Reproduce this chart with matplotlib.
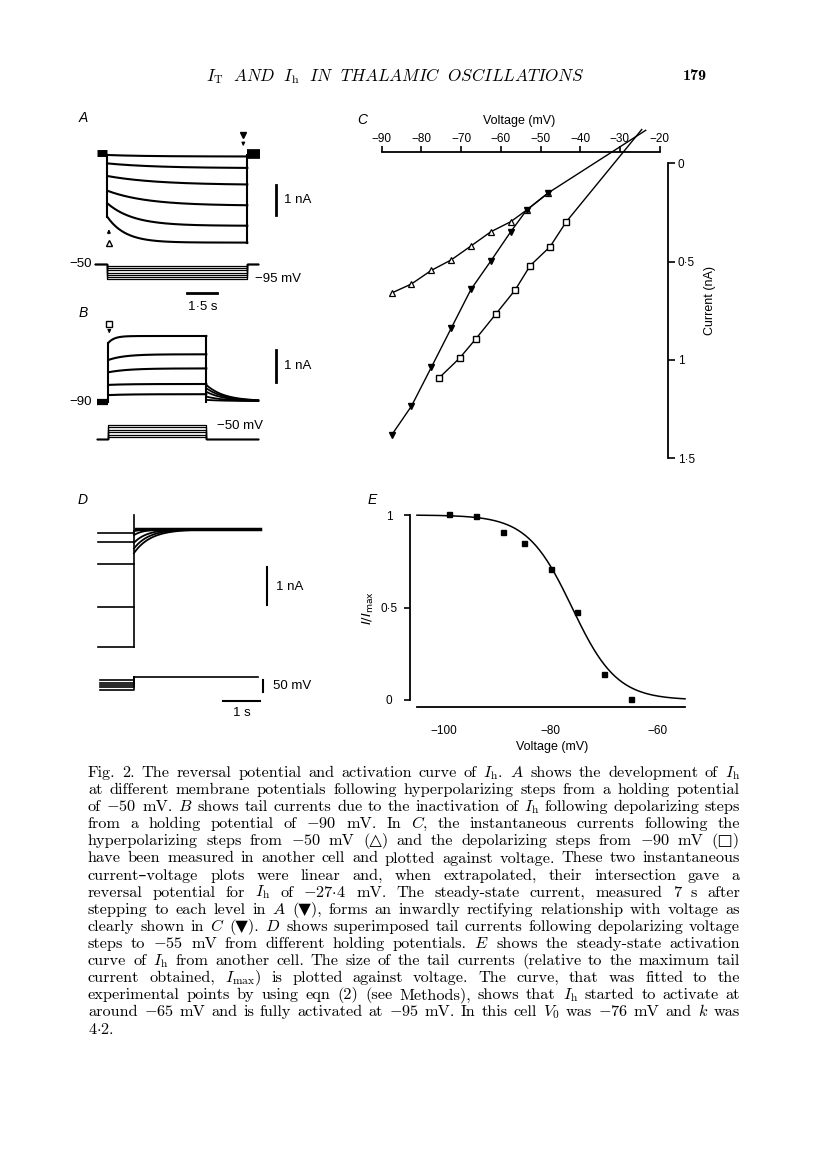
import numpy as np
import matplotlib
matplotlib.use('Agg')
import matplotlib.pyplot as plt

plt.rcParams['font.family'] = ['Liberation Sans', 'DejaVu Sans']
plt.rcParams['mathtext.fontset'] = 'cm'

W, H = 816, 1169

# ---------------- data ----------------
# A: currents (nA, rel. to holding at -50 mV) during 7 s hyperpolarizing steps
A_inst = [0.0, -0.28, -0.70, -1.19, -1.61, -2.06]
A_ss = [-0.05, -0.44, -1.00, -1.69, -2.36, -2.92]
A_tau = [2.0, 2.5, 2.5, 2.0, 1.3, 0.9]
A_volt = [-55, -62, -69, -75, -82, -88, -95]
A_dur = 7.0

# B: depolarizing steps from -90 mV, then tail currents
B_inst = [1.96, 1.39, 0.98, 0.56, 0.22]
B_ss = [2.19, 1.58, 1.11, 0.59, 0.25]
B_tau = [0.3, 0.8, 1.0, 1.0, 1.0]
B_tail = [0.56, 0.45, 0.33, 0.17, 0.06]
B_tail_tau = 0.9
B_volt = [-50, -57, -64, -71, -78, -85]
B_dur = 4.9

# C: I-V relations (voltage mV, current nA, inward plotted downwards)
C_v_tri = [-87.5, -82.5, -77.5, -72.5, -67.5, -62.5, -57.5, -53.5, -48.0, -23.5]
C_i_tri = [0.66, 0.614, 0.545, 0.492, 0.421, 0.349, 0.298, 0.239, 0.151, -0.166]
C_v_ss = [-87.5, -82.5, -77.5, -72.5, -67.5, -62.5, -57.5, -53.5, -48.0]
C_i_ss = [1.381, 1.234, 1.037, 0.839, 0.641, 0.497, 0.349, 0.239, 0.151]
C_v_sq = [-75.5, -70.4, -66.3, -61.3, -56.4, -52.6, -47.6, -43.5, -24.5]
C_i_sq = [1.09, 0.991, 0.893, 0.768, 0.645, 0.521, 0.425, 0.298, -0.17]
C_xticks = [-90, -80, -70, -60, -50, -40, -30, -20]
C_yticks = [0, 0.5, 1, 1.5]
C_ylabels = ['0', '0·5', '1', '1·5']

# D: tail currents at -55 mV from different holding potentials
D_pre = [-0.10, -0.34, -0.91, -2.04, -3.07]
D_tail = [-0.05, -0.15, -0.35, -0.50, -0.62]
D_tau = [0.15, 0.25, 0.35, 0.40, 0.45]
D_hold = [-70, -80, -90, -100, -110]
D_step = -55

# E: activation curve
E_v = [-99, -94, -89, -85, -80, -75, -70, -65]
E_i = [1.003, 0.996, 0.906, 0.85, 0.706, 0.474, 0.139, 0.004]
E_V0, E_k = -76.0, 4.2
E_yticks = [0, 0.5, 1]
E_ylabels = ['0', '0·5', '1']
E_xticks = [-100, -80, -60]

fig = plt.figure(figsize=(W / 100, H / 100), dpi=100)


def panel(box, origin, scale, off=True):
    # box/origin in pixels from the top-left corner, scale in px per data unit
    x0, y0, x1, y1 = box
    ox, oy = origin
    sx, sy = scale
    ax = fig.add_axes([x0 / W, 1 - y1 / H, (x1 - x0) / W, (y1 - y0) / H])
    ax.set_facecolor('none')
    ax.set_xlim((x0 - ox) / sx, (x1 - ox) / sx)
    ax.set_ylim((oy - y1) / sy, (oy - y0) / sy)
    if off:
        ax.axis('off')
    return ax


def ftext(x, y, s, **kw):
    kw.setdefault('fontsize', 9.5)
    return fig.text(x / W, 1 - y / H, s, **kw)


LW = 1.5
K = 'black'

# ---------------- panel A ----------------
axA = panel((60, 125, 300, 310), (107.3, 155), (20, 30))
t = np.linspace(0, A_dur, 300)
for i0, iss, tau in zip(A_inst, A_ss, A_tau):
    axA.plot(t, iss + (i0 - iss) * np.exp(-t / tau), color=K, lw=LW)
axA.plot([0, 0], [0, min(A_inst)], color=K, lw=LW)
axA.plot([A_dur, A_dur], [0, min(A_ss)], color=K, lw=LW)
axA.plot([-0.5, 0], [0.08, 0.08], color=K, lw=5, solid_capstyle='butt')
axA.plot([A_dur, A_dur + 0.65], [0.05, 0.05], color=K, lw=7, solid_capstyle='butt')
axA.plot([0.08], [-2.93], marker='^', ms=4, mfc='white', mec=K, mew=1)
axA.annotate('', xy=(0.08, -2.38), xytext=(0.08, -2.72),
             arrowprops=dict(arrowstyle='-|>', lw=0.8, color=K, mutation_scale=5))
axA.plot([A_dur - 0.2], [0.67], marker='v', ms=4.5, color=K)
axA.annotate('', xy=(A_dur - 0.2, 0.2), xytext=(A_dur - 0.2, 0.52),
             arrowprops=dict(arrowstyle='-|>', lw=0.8, color=K, mutation_scale=5))
axA.plot([8.43, 8.43], [-1, -2], color=K, lw=2)
axA.text(8.85, -1.5, '1 nA', fontsize=9.5, va='center')

axAv = panel((60, 250, 300, 315), (107.3, 247), (20, 0.34))
for v in A_volt:
    axAv.plot([-0.6, 0, 0, A_dur, A_dur, A_dur + 0.55], [-50, -50, v, v, -50, -50],
              color=K, lw=0.9)
axAv.text(-0.75, -50, '−50', ha='right', va='center', fontsize=9.5)
axAv.text(A_dur + 0.4, -95, '−95 mV', ha='left', va='center', fontsize=9.5)
axAv.plot([4.0, 5.5], [-136, -136], color=K, lw=2)
axAv.text(4.75, -160, '1·5 s', ha='center', va='top', fontsize=9.5)

# ---------------- panel B ----------------
axB = panel((60, 315, 300, 410), (108.3, 401.7), (20, 30))
t = np.linspace(0, B_dur, 300)
tt = np.linspace(B_dur, 7.5, 200)
for i0, iss, tau, it in zip(B_inst, B_ss, B_tau, B_tail):
    axB.plot(t, iss + (i0 - iss) * np.exp(-t / tau), color=K, lw=LW)
    axB.plot(tt, 0.02 + (it - 0.02) * np.exp(-(tt - B_dur) / B_tail_tau), color=K, lw=1.3)
axB.plot([0, 0], [0, max(B_inst)], color=K, lw=LW)
axB.plot([B_dur, B_dur], [0, max(B_ss)], color=K, lw=LW)
axB.plot([-0.58, 0], [0, 0], color=K, lw=4.5, solid_capstyle='butt')
axB.plot([0.05], [2.6], marker='s', ms=4.5, mfc='white', mec=K, mew=1)
axB.annotate('', xy=(0.05, 2.18), xytext=(0.05, 2.45),
             arrowprops=dict(arrowstyle='-|>', lw=0.8, color=K, mutation_scale=5))
axB.text(-0.8, 0, '−90', ha='right', va='center', fontsize=9.5)
axB.plot([8.39, 8.39], [1.72, 0.67], color=K, lw=2)
axB.text(8.8, 1.18, '1 nA', fontsize=9.5, va='center')

axBv = panel((60, 412, 300, 450), (108.3, 406.9), (20, 0.36))
for v in B_volt:
    axBv.plot([-0.58, 0, 0, B_dur, B_dur, 7.5], [-90, -90, v, v, -90, -90],
              color=K, lw=0.9)
axBv.text(B_dur + 0.55, -53, '−50 mV', ha='left', va='center', fontsize=9.5)

# ---------------- panel C ----------------
axC = panel((340, 100, 730, 480), (739, 163), (3.97, -197), off=False)
axC.plot(C_v_tri, C_i_tri, color=K, lw=1)
axC.plot(C_v_ss, C_i_ss, color=K, lw=1)
axC.plot(C_v_sq, C_i_sq, color=K, lw=1)
axC.plot(C_v_tri[:-1], C_i_tri[:-1], ls='none', marker='^', ms=3.8, mfc='white', mec=K, mew=0.9)
axC.plot(C_v_ss, C_i_ss, ls='none', marker='v', ms=4.5, color=K)
axC.plot(C_v_sq[:-1], C_i_sq[:-1], ls='none', marker='s', ms=4.5, mfc='white', mec=K, mew=1)
for s in ['left', 'bottom']:
    axC.spines[s].set_visible(False)
axC.spines['top'].set_position(('data', -0.056))
axC.spines['top'].set_bounds(-90, -20)
axC.spines['right'].set_position(('data', -17.9))
axC.spines['right'].set_bounds(0, 1.5)
for s in ['top', 'right']:
    axC.spines[s].set_linewidth(1.3)
axC.xaxis.tick_top()
axC.yaxis.tick_right()
axC.set_xticks(C_xticks, labels=['−%d' % -v for v in C_xticks])
axC.set_yticks(C_yticks, labels=C_ylabels)
axC.tick_params(axis='x', direction='out', length=4, width=1.2, pad=1, labelsize=8.5)
axC.tick_params(axis='y', direction='out', length=5, width=1.2, pad=2, labelsize=8.5)
ftext(519, 121, 'Voltage (mV)', fontsize=9, ha='center', va='center')
ftext(710, 300, 'Current (nA)', fontsize=9, ha='center', va='center', rotation=90)

# ---------------- panel D ----------------
axD = panel((70, 505, 300, 660), (134, 529.3), (37.3, 38.3))
t = np.linspace(0, 3.38, 300)
for ip in D_pre:
    axD.plot([-0.96, 0], [ip, ip], color=K, lw=1.2)
for it, tau in zip(D_tail, D_tau):
    axD.plot(t, it * np.exp(-t / tau), color=K, lw=1.3)
axD.plot([0, 0], [min(D_pre), 0.37], color=K, lw=1.2)
axD.plot([0.05, 3.38], [0, 0], color=K, lw=2.5)
axD.plot([3.56, 3.56], [-0.98, -1.98], color=K, lw=1.5)
axD.text(3.8, -1.5, '1 nA', fontsize=9.5, va='center')

axDv = panel((70, 665, 300, 725), (134, 663.8), (37.3, 0.234))
for v in D_hold:
    axDv.plot([-0.91, 0, 0], [v, v, D_step], color=K, lw=1.2)
axDv.plot([0, 3.33], [D_step, D_step], color=K, lw=1.2)
axDv.plot([3.46, 3.46], [-69, -119], color=K, lw=1.5)
axDv.text(3.72, -94, '50 mV', fontsize=9.5, va='center')
axDv.plot([2.38, 3.38], [-158, -158], color=K, lw=1.5)
axDv.text(2.88, -185, '1 s', fontsize=9.5, ha='center', va='top')

# ---------------- panel E ----------------
axE = panel((340, 490, 700, 760), (977.1, 700), (5.33, 185), off=False)
v = np.linspace(-105.1, -54.8, 300)
axE.plot(v, 1 / (1 + np.exp((v - E_V0) / E_k)), color=K, lw=1.1)
axE.plot(E_v, E_i, ls='none', marker='s', ms=3.6, color=K)
for s in ['top', 'right']:
    axE.spines[s].set_visible(False)
axE.spines['left'].set_position(('data', -106.4))
axE.spines['left'].set_bounds(0, 1)
axE.spines['bottom'].set_position(('data', -0.039))
axE.spines['bottom'].set_bounds(-105.1, -54.8)
for s in ['left', 'bottom']:
    axE.spines[s].set_linewidth(1.3)
axE.set_yticks(E_yticks, labels=E_ylabels)
axE.set_xticks(E_xticks, labels=['−%d' % -x for x in E_xticks])
axE.tick_params(axis='y', direction='out', length=4, width=1.2, pad=11, labelsize=8.5)
axE.tick_params(axis='x', length=0, pad=13, labelsize=8.5)
plt.setp(axE.get_yticklabels(), ha='center')
ftext(551.7, 746.7, 'Voltage (mV)', fontsize=9, ha='center', va='center')
ftext(368, 608, r'$I/I_{\mathrm{max}}$', fontsize=9.5, ha='center', va='center',
      rotation=90, math_fontfamily='dejavusans')

# panel letters
for lab, (x, y) in zip('ABCDE', [(83, 118), (83, 313), (362, 120), (83, 500), (372, 500)]):
    ftext(x, y, lab, fontsize=10, style='italic', ha='center', va='center')

# ---------------- running head ----------------
ftext(395, 76, r'$I_\mathrm{T}\ \ AND\ \ I_\mathrm{h}\ \ IN\ \ THALAMIC\ \ OSCILLATIONS$',
      fontsize=12.3, ha='center', va='center')
ftext(695, 76, '179', fontsize=11.5, family='cmb10', ha='center', va='center')

# ---------------- caption (justified) ----------------
caption = [
    r"Fig. 2. The reversal potential and activation curve of $I_\mathrm{h}$. $A$ shows the development of $I_\mathrm{h}$",
    r"at different membrane potentials following hyperpolarizing steps from a holding potential",
    r"of $-50$ mV. $B$ shows tail currents due to the inactivation of $I_\mathrm{h}$ following depolarizing steps",
    r"from a holding potential of $-90$ mV. In $C$, the instantaneous currents following the",
    r"hyperpolarizing steps from $-50$ mV (△) and the depolarizing steps from $-90$ mV (□)",
    r"have been measured in another cell and plotted against voltage. These two instantaneous",
    r"current–voltage plots were linear and, when extrapolated, their intersection gave a",
    r"reversal potential for $I_\mathrm{h}$ of $-27{\cdot}4$ mV. The steady-state current, measured 7 s after",
    r"stepping to each level in $A$ (▼), forms an inwardly rectifying relationship with voltage as",
    r"clearly shown in $C$ (▼). $D$ shows superimposed tail currents following depolarizing voltage",
    r"steps to $-55$ mV from different holding potentials. $E$ shows the steady-state activation",
    r"curve of $I_\mathrm{h}$ from another cell. The size of the tail currents (relative to the maximum tail",
    r"current obtained, $I_\mathrm{max}$) is plotted against voltage. The curve, that was fitted to the",
    r"experimental points by using eqn (2) (see Methods), shows that $I_\mathrm{h}$ started to activate at",
    r"around $-65$ mV and is fully activated at $-95$ mV. In this cell $V_0$ was $-76$ mV and $k$ was",
    r"$4{\cdot}2$.",
]
CAP_X0, CAP_X1, CAP_Y0, CAP_DY = 88, 740, 777, 17.1
CAP_FAM = ['cmr10', 'DejaVu Sans']
renderer = fig.canvas.get_renderer()

# pick the font size so that the fullest line, with ordinary spacing, fills the measure
fs0 = 10.0
natural = []
for line in caption[:-1]:
    words = line.split(' ')
    tx = [fig.text(0, 0, w, fontsize=fs0, family=CAP_FAM) for w in words]
    wsum = sum(t_.get_window_extent(renderer).width for t_ in tx)
    natural.append(wsum + 0.33 * fs0 * 100 / 72 * (len(words) - 1))
    for t_ in tx:
        t_.remove()
cap_fs = min(fs0 * (CAP_X1 - CAP_X0) / max(natural), 13.0)

for n, line in enumerate(caption):
    words = line.split(' ')
    y = CAP_Y0 + n * CAP_DY
    texts = [fig.text(0, 1 - y / H, w, fontsize=cap_fs, family=CAP_FAM,
                      va='baseline') for w in words]
    widths = [tx.get_window_extent(renderer).width for tx in texts]
    if n == len(caption) - 1:
        gap = 0.33 * cap_fs * 100 / 72
    else:
        gap = (CAP_X1 - CAP_X0 - sum(widths)) / (len(words) - 1)
    x = CAP_X0
    for tx, w in zip(texts, widths):
        tx.set_x(x / W)
        x += w + gap

fig.savefig('out.png', dpi=100)
